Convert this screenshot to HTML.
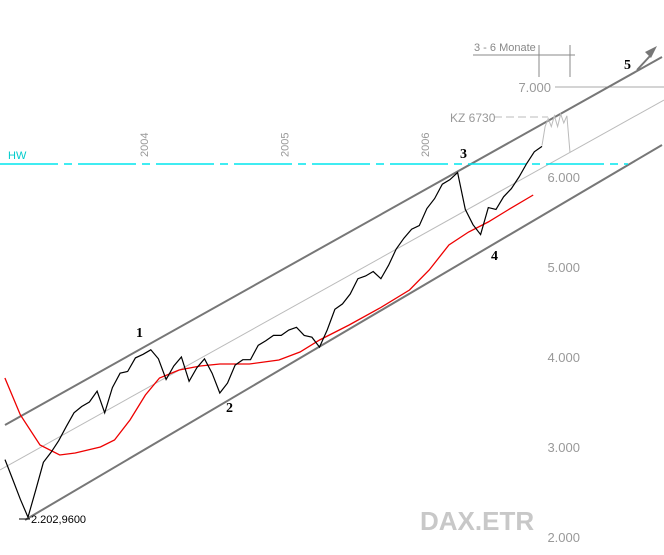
<!DOCTYPE html>
<html><head><meta charset="utf-8"><style>
html,body{margin:0;padding:0;background:#fff;width:664px;height:555px;overflow:hidden}
svg{display:block;font-family:"Liberation Sans",sans-serif}
</style></head><body>
<svg id="chart" width="664" height="555" viewBox="0 0 664 555">
<g id="grid"></g>
<g id="channels">
<line x1="5" y1="425" x2="662" y2="57" stroke="#777" stroke-width="2"/>
<line x1="0" y1="470" x2="664" y2="100" stroke="#bbb" stroke-width="1"/>
<line x1="25" y1="520" x2="662" y2="145" stroke="#777" stroke-width="2"/>
</g>
<line x1="0" y1="164" x2="628" y2="164" stroke="#00e5ee" stroke-width="1.5" stroke-dasharray="58,6,8,6"/>
<text x="8" y="159" font-size="11" fill="#00cccc">HW</text>
<g id="years"></g>
<g id="yaxis"></g>
<path id="ma" fill="none" stroke="#e00" stroke-width="1.3"/>
<path id="price" fill="none" stroke="#000" stroke-width="1.2"/>
<path id="proj" fill="none" stroke="#bbb" stroke-width="1"/>
<line x1="494" y1="117" x2="548" y2="117" stroke="#bbb" stroke-dasharray="8,4"/>
<text x="450" y="122" font-size="12" fill="#999">KZ 6730</text>
<line x1="473" y1="55" x2="575" y2="55" stroke="#888"/>
<line x1="539" y1="45" x2="539" y2="77" stroke="#888"/>
<line x1="570" y1="45" x2="570" y2="77" stroke="#888"/>
<text x="474" y="51" font-size="11" fill="#888">3 - 6 Monate</text>
<path d="M637 70 L650 56" stroke="#777" stroke-width="2"/>
<polygon points="657,46 645,52 651,58" fill="#777"/>
<g font-size="14" font-weight="bold" fill="#000" font-family="Liberation Serif,serif">
<text x="136" y="337">1</text>
<text x="226" y="412">2</text>
<text x="460" y="158">3</text>
<text x="491" y="260">4</text>
<text x="624" y="69">5</text>
</g>
<line x1="19" y1="519" x2="30" y2="519" stroke="#000"/>
<text x="31" y="523" font-size="11" fill="#000">2.202,9600</text>
<text x="420" y="530" font-size="26" font-weight="bold" fill="#c8c8c8">DAX.ETR</text>
</svg>
<script>
const yTicks=[2000,3000,4000,5000,6000,7000];
const yTickLabels=["2.000","3.000","4.000","5.000","6.000","7.000"];
const years=["2004","2005","2006"];
const yearVals=[2004,2005,2006];
const priceVals=[2860,2640,2420,2220,2520,2830,2940,3070,3230,3380,3450,3500,3620,3380,3660,3820,3840,3990,4030,4080,3980,3750,3900,4000,3730,3880,3980,3820,3600,3710,3910,3970,3970,4130,4180,4240,4240,4300,4330,4240,4220,4110,4300,4530,4590,4700,4870,4900,4950,4870,5020,5200,5320,5420,5460,5650,5760,5920,5970,6050,5640,5470,5360,5660,5640,5780,5870,6000,6150,6280,6340];
const maDates=[2003.01,2003.12,2003.26,2003.40,2003.51,2003.69,2003.79,2003.90,2004.01,2004.11,2004.25,2004.40,2004.54,2004.75,2004.96,2005.11,2005.25,2005.46,2005.68,2005.89,2006.03,2006.17,2006.31,2006.45,2006.59,2006.77];
const maVals=[3767,3356,3022,2911,2933,3000,3078,3300,3578,3767,3856,3900,3922,3922,3967,4056,4189,4356,4544,4744,4967,5244,5389,5500,5633,5800];
const projVals=[6350,6560,6650,6560,6680,6560,6700,6600,6680,6270];
function xYear(y){return 144+(y-2004)*140.5;}
function yS(v){return 537-(v-2000)*0.09;}
const svg=document.getElementById('chart');
const NS='http://www.w3.org/2000/svg';
yTicks.forEach((v,i)=>{
 if(v===7000){const l=document.createElementNS(NS,'line');
 
 
 l.setAttribute('x1',555);l.setAttribute('x2',664);l.setAttribute('y1',yS(v));l.setAttribute('y2',yS(v));l.setAttribute('stroke','#aaa');document.getElementById('grid').appendChild(l);}
 const t=document.createElementNS(NS,'text');
 
 
 t.setAttribute('x',v===7000?551:580);t.setAttribute('y',yS(v)+5);t.setAttribute('text-anchor','end');
 t.setAttribute('font-size','13');t.setAttribute('fill','#999');t.textContent=yTickLabels[i];
 document.getElementById('yaxis').appendChild(t);
});
years.forEach((y,i)=>{
 const t=document.createElementNS(NS,'text');
 
 
 const x=xYear(yearVals[i])+4;
 t.setAttribute('transform','translate('+x+',157) rotate(-90)');
 t.setAttribute('font-size','11');t.setAttribute('fill','#999');t.textContent=y;
 document.getElementById('years').appendChild(t);
});
function path(vals,xa,xb){return vals.map((v,i)=>(i?'L':'M')+(xa+(xb-xa)*i/(vals.length-1)).toFixed(1)+' '+yS(v).toFixed(1)).join(' ');}
document.getElementById('price').setAttribute('d',path(priceVals,5,542));
document.getElementById('ma').setAttribute('d',maVals.map((v,i)=>(i?'L':'M')+xYear(maDates[i]).toFixed(1)+' '+yS(v).toFixed(1)).join(' '));
document.getElementById('proj').setAttribute('d',path(projVals,542,570));
</script>
</body></html>
